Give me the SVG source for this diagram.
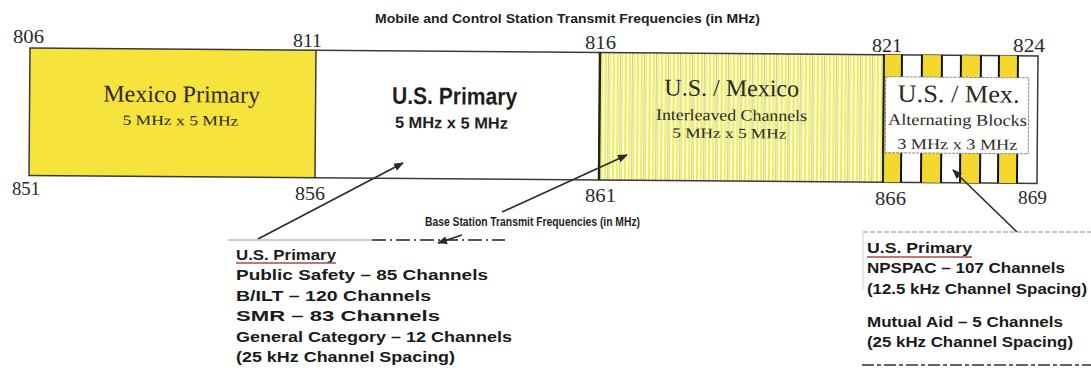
<svg xmlns="http://www.w3.org/2000/svg" width="1091" height="381" viewBox="0 0 1091 381">
<style>
.serif{font-family:"Liberation Serif","Times New Roman",serif;fill:#2b2a1e}
.num{font-family:"Liberation Serif","Times New Roman",serif;font-size:18px;fill:#2a2a2a}
.bold{font-family:"Liberation Sans",Arial,sans-serif;font-weight:bold;fill:#1e1e1e}
.list{font-family:"Liberation Sans",Arial,sans-serif;font-weight:bold;font-size:15px;fill:#1a1a1a}
.edge{stroke:#3a3a3a;stroke-width:1.5}
.conn{stroke:#2a2a2a;stroke-width:1.6;fill:none}
.bar{stroke:#111;stroke-width:2}
.ylw{fill:#f5d82e}
</style>
<defs>
<pattern id="stripes" width="12" height="10" patternUnits="userSpaceOnUse">
<rect width="12" height="10" fill="#fbfbdc"/>
<rect x="1" width="2" height="10" fill="#ecec5c"/>
<rect x="5" width="2" height="10" fill="#eeee66"/>
<rect x="8" width="0.8" height="10" fill="#c4c49a"/>
<rect x="9.5" width="1.5" height="10" fill="#ecec5c"/>
</pattern>
<marker id="arr" viewBox="0 0 10 8" refX="9" refY="4" markerWidth="10" markerHeight="8" markerUnits="userSpaceOnUse" orient="auto">
<path d="M0,0 L10,4 L0,8 Z" fill="#2a2a2a"/>
</marker>
</defs>
<rect width="1091" height="381" fill="#ffffff"/>

<text class="bold" x="375" y="23" font-size="12" textLength="385" lengthAdjust="spacingAndGlyphs">Mobile and Control Station Transmit Frequencies (in MHz)</text>

<g id="band" transform="rotate(0.45 30 48)">
<g id="mexico-primary">
<rect x="30" y="48" width="286" height="127.5" style="fill:#f6e43c" class="edge"/>
<text class="serif" x="182" y="101" font-size="24" text-anchor="middle">Mexico Primary</text>
<text class="serif" x="181" y="124" font-size="14" text-anchor="middle" textLength="116" lengthAdjust="spacingAndGlyphs">5 MHz x 5 MHz</text>
</g>
<g id="us-primary">
<line x1="316" y1="48" x2="600" y2="48" class="edge"/>
<line x1="316" y1="175.5" x2="600" y2="175.5" class="edge"/>
<text class="bold" x="455" y="101" font-size="24" text-anchor="middle" textLength="125" lengthAdjust="spacingAndGlyphs">U.S. Primary</text>
<text class="bold" x="452" y="125" font-size="16" text-anchor="middle" textLength="113" lengthAdjust="spacingAndGlyphs">5 MHz x 5 MHz</text>
</g>
<g id="us-mexico-interleaved">
<rect x="600" y="48" width="284" height="127.5" style="fill:url(#stripes)" class="edge"/>
<line x1="600" y1="48" x2="600" y2="175.5" stroke="#222" stroke-width="2.4"/>
<text class="serif" x="732" y="90.5" font-size="24" text-anchor="middle">U.S. / Mexico</text>
<text class="serif" x="732" y="115" font-size="16" text-anchor="middle" textLength="151" lengthAdjust="spacingAndGlyphs">Interleaved Channels</text>
<text class="serif" x="730" y="132.5" font-size="14" text-anchor="middle" textLength="114" lengthAdjust="spacingAndGlyphs">5 MHz x 5 MHz</text>
</g>
<g id="us-mex-alternating">
<rect x="884" y="48" width="154" height="127.5" style="fill:#ffffff" class="edge"/>
<rect x="885" y="48" width="16" height="127.5" class="ylw"/>
<rect x="923" y="48" width="18" height="127.5" class="ylw"/>
<rect x="962" y="48" width="18" height="127.5" class="ylw"/>
<rect x="1000" y="48" width="17" height="127.5" class="ylw"/>
<g class="bar">
<line x1="902" y1="48" x2="902" y2="175.5"/>
<line x1="922" y1="48" x2="922" y2="175.5"/>
<line x1="942" y1="48" x2="942" y2="175.5"/>
<line x1="961" y1="48" x2="961" y2="175.5"/>
<line x1="981" y1="48" x2="981" y2="175.5"/>
<line x1="999" y1="48" x2="999" y2="175.5"/>
<line x1="1018" y1="48" x2="1018" y2="175.5"/>
</g>
<line x1="884" y1="48" x2="884" y2="175.5" stroke="#222" stroke-width="2"/>
<rect x="886" y="70" width="143" height="76" fill="#ffffff" stroke="#8a8a8a" stroke-width="1" stroke-dasharray="3 1"/>
<text class="serif" x="959" y="95" font-size="25" text-anchor="middle" textLength="122" lengthAdjust="spacingAndGlyphs">U.S. / Mex.</text>
<text class="serif" x="958" y="118" font-size="16" text-anchor="middle" textLength="139" lengthAdjust="spacingAndGlyphs">Alternating Blocks</text>
<text class="serif" x="958" y="142" font-size="15" text-anchor="middle" textLength="120" lengthAdjust="spacingAndGlyphs">3 MHz x 3 MHz</text>
</g>
</g>

<g id="frequency-labels">
<text class="num" x="13" y="43" textLength="31" lengthAdjust="spacingAndGlyphs">806</text>
<text class="num" x="293" y="47" textLength="29" lengthAdjust="spacingAndGlyphs">811</text>
<text class="num" x="585" y="49" textLength="31" lengthAdjust="spacingAndGlyphs">816</text>
<text class="num" x="872" y="52" textLength="30" lengthAdjust="spacingAndGlyphs">821</text>
<text class="num" x="1013" y="52" textLength="32" lengthAdjust="spacingAndGlyphs">824</text>
<text class="num" x="12" y="195" textLength="28" lengthAdjust="spacingAndGlyphs">851</text>
<text class="num" x="295" y="200" textLength="30" lengthAdjust="spacingAndGlyphs">856</text>
<text class="num" x="585" y="202" textLength="31" lengthAdjust="spacingAndGlyphs">861</text>
<text class="num" x="875" y="205" textLength="31" lengthAdjust="spacingAndGlyphs">866</text>
<text class="num" x="1018" y="204" textLength="29" lengthAdjust="spacingAndGlyphs">869</text>
</g>

<g id="base-label">
<text class="bold" x="425" y="226" font-size="12" textLength="215" lengthAdjust="spacingAndGlyphs">Base Station Transmit Frequencies (in MHz)</text>
</g>

<g id="connectors">
<line x1="258" y1="239" x2="403" y2="163" class="conn" marker-end="url(#arr)"/>
<line x1="502" y1="212" x2="627" y2="155" class="conn" marker-end="url(#arr)"/>
<line x1="1017" y1="232" x2="953" y2="170" class="conn" marker-end="url(#arr)"/>
<line x1="228" y1="240" x2="372" y2="240" stroke="#9a9a9a" stroke-width="1"/>
<line x1="372" y1="240" x2="505" y2="240" stroke="#222" stroke-width="1.6" stroke-dasharray="14 4 2 4"/>
<line x1="462" y1="235" x2="438" y2="243" class="conn" marker-end="url(#arr)"/>
</g>

<g id="us-primary-list">
<text class="list" x="236" y="260" textLength="100" lengthAdjust="spacingAndGlyphs">U.S. Primary</text>
<line x1="236" y1="263" x2="336" y2="263" stroke="#a84848" stroke-width="1.3"/>
<text class="list" x="236" y="280" textLength="252" lengthAdjust="spacingAndGlyphs">Public Safety – 85 Channels</text>
<text class="list" x="236" y="301" textLength="195" lengthAdjust="spacingAndGlyphs">B/ILT – 120 Channels</text>
<text class="list" x="236" y="321" textLength="204" lengthAdjust="spacingAndGlyphs">SMR – 83 Channels</text>
<text class="list" x="236" y="342" textLength="276" lengthAdjust="spacingAndGlyphs">General Category – 12 Channels</text>
<text class="list" x="236" y="362" textLength="219" lengthAdjust="spacingAndGlyphs">(25 kHz Channel Spacing)</text>
</g>

<g id="npspac-list">
<line x1="863" y1="232" x2="1091" y2="232" stroke="#8a8a8a" stroke-width="1" stroke-dasharray="5 2"/>
<line x1="863" y1="232" x2="863" y2="290" stroke="#d0d0d0" stroke-width="1"/>
<text class="list" x="867" y="253" textLength="105" lengthAdjust="spacingAndGlyphs">U.S. Primary</text>
<line x1="867" y1="257" x2="972" y2="257" stroke="#a84848" stroke-width="1.3"/>
<text class="list" x="867" y="273" textLength="198" lengthAdjust="spacingAndGlyphs">NPSPAC – 107 Channels</text>
<text class="list" x="867" y="294" textLength="220" lengthAdjust="spacingAndGlyphs">(12.5 kHz Channel Spacing)</text>
<text class="list" x="867" y="327" textLength="196" lengthAdjust="spacingAndGlyphs">Mutual Aid – 5 Channels</text>
<text class="list" x="867" y="347" textLength="206" lengthAdjust="spacingAndGlyphs">(25 kHz Channel Spacing)</text>
<line x1="862" y1="365" x2="1091" y2="365" stroke="#333" stroke-width="1.3" stroke-dasharray="12 3 4 3"/>
</g>
</svg>
